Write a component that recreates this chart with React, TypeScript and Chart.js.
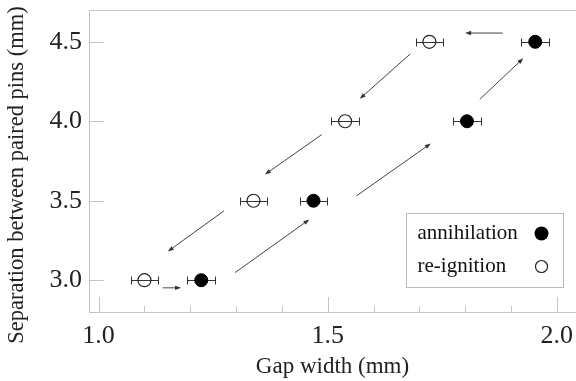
import React, { useEffect, useRef } from 'react';
import { Chart, registerables } from 'chart.js';

Chart.register(...registerables);

const separations = [3.0, 3.5, 4.0, 4.5];
const annihilationGap = [1.224, 1.469, 1.804, 1.953];
const reignitionGap = [1.1, 1.338, 1.538, 1.722];
const annihilationErr = [0.03, 0.03, 0.03, 0.03];
const reignitionErr = [0.03, 0.03, 0.03, 0.03];

const xMajorTicks = [1.0, 1.5, 2.0];
const xMinorTicks = [1.1, 1.2, 1.3, 1.4, 1.6, 1.7, 1.8, 1.9];
const yMajorTicks = [3.0, 3.5, 4.0, 4.5];

const arrowFromX = [1.882, 1.68, 1.487, 1.274, 1.14, 1.298, 1.563, 1.832];
const arrowFromY = [4.555, 4.423, 3.916, 3.437, 2.952, 3.048, 3.531, 4.138];
const arrowToX = [1.8, 1.57, 1.363, 1.151, 1.18, 1.46, 1.725, 1.927];
const arrowToY = [4.555, 4.141, 3.665, 3.181, 2.952, 3.382, 3.86, 4.397];

const yTitle = 'Separation between paired pins (mm)';
const xTitle = 'Gap width (mm)';

const FONT = '"Liberation Serif", "Times New Roman", serif';
const AXIS_GRAY = '#c4c4c4';

const errors = [annihilationErr, reignitionErr];

const decorPlugin = {
  id: 'decor',
  beforeDatasetsDraw(chart: any) {
    const { ctx, scales } = chart;
    const xs = scales.x;
    const ys = scales.y;
    ctx.save();
    // arrows
    ctx.strokeStyle = '#444';
    ctx.fillStyle = '#333';
    ctx.lineWidth = 1;
    for (let i = 0; i < arrowFromX.length; i++) {
      const x1 = xs.getPixelForValue(arrowFromX[i]);
      const y1 = ys.getPixelForValue(arrowFromY[i]);
      const x2 = xs.getPixelForValue(arrowToX[i]);
      const y2 = ys.getPixelForValue(arrowToY[i]);
      const ang = Math.atan2(y2 - y1, x2 - x1);
      const hl = 6;
      const hw = 2.2;
      ctx.beginPath();
      ctx.moveTo(x1, y1);
      ctx.lineTo(x2 - Math.cos(ang) * hl * 0.8, y2 - Math.sin(ang) * hl * 0.8);
      ctx.stroke();
      ctx.beginPath();
      ctx.moveTo(x2, y2);
      ctx.lineTo(x2 - Math.cos(ang) * hl - Math.sin(ang) * hw, y2 - Math.sin(ang) * hl + Math.cos(ang) * hw);
      ctx.lineTo(x2 - Math.cos(ang) * hl + Math.sin(ang) * hw, y2 - Math.sin(ang) * hl - Math.cos(ang) * hw);
      ctx.closePath();
      ctx.fill();
    }
    // error bars
    ctx.strokeStyle = '#333';
    ctx.lineWidth = 1;
    chart.data.datasets.forEach((ds: any, di: number) => {
      ds.data.forEach((p: any, i: number) => {
        const e = errors[di][i];
        const xa = Math.round(xs.getPixelForValue(p.x - e)) + 0.5;
        const xb = Math.round(xs.getPixelForValue(p.x + e)) + 0.5;
        const y = Math.round(ys.getPixelForValue(p.y)) + 0.5;
        ctx.beginPath();
        ctx.moveTo(xa, y);
        ctx.lineTo(xb, y);
        ctx.moveTo(xa, y - 4);
        ctx.lineTo(xa, y + 4);
        ctx.moveTo(xb, y - 4);
        ctx.lineTo(xb, y + 4);
        ctx.stroke();
      });
    });
    ctx.restore();
  },
  afterDraw(chart: any) {
    const { ctx, chartArea, scales } = chart;
    const xs = scales.x;
    const ys = scales.y;
    ctx.save();
    ctx.strokeStyle = AXIS_GRAY;
    ctx.lineWidth = 1;
    // top frame line
    ctx.beginPath();
    ctx.moveTo(chartArea.left, chartArea.top + 0.5);
    ctx.lineTo(chartArea.right, chartArea.top + 0.5);
    ctx.stroke();
    // inward ticks
    ctx.beginPath();
    yMajorTicks.forEach((v) => {
      const y = Math.round(ys.getPixelForValue(v)) + 0.5;
      ctx.moveTo(chartArea.left, y);
      ctx.lineTo(chartArea.left + 15, y);
    });
    xMajorTicks.forEach((v) => {
      const x = Math.round(xs.getPixelForValue(v)) + 0.5;
      ctx.moveTo(x, chartArea.bottom);
      ctx.lineTo(x, chartArea.bottom - 15);
    });
    xMinorTicks.forEach((v) => {
      const x = Math.round(xs.getPixelForValue(v)) + 0.5;
      ctx.moveTo(x, chartArea.bottom);
      ctx.lineTo(x, chartArea.bottom - 6);
    });
    ctx.stroke();
    // y-axis title
    ctx.save();
    ctx.translate(17, (chartArea.top + chartArea.bottom) / 2 + 14);
    ctx.rotate(-Math.PI / 2);
    ctx.font = '22.5px ' + FONT;
    ctx.fillStyle = '#222';
    ctx.textAlign = 'center';
    ctx.textBaseline = 'middle';
    ctx.fillText(yTitle, 0, 0);
    ctx.restore();
    // legend
    const bx = chartArea.right - 169.5;
    const by = chartArea.top + 203.5;
    const bw = 157;
    const bh = 74;
    ctx.strokeStyle = '#bbbbbb';
    ctx.strokeRect(bx, by, bw, bh);
    ctx.font = '21px ' + FONT;
    ctx.fillStyle = '#111';
    ctx.textBaseline = 'middle';
    ctx.textAlign = 'left';
    const labels = chart.data.datasets.map((d: any) => d.label);
    const rows = [by + 20, by + 53];
    labels.forEach((t: string, i: number) => {
      ctx.fillText(t, bx + 11, rows[i]);
    });
    const mx = bx + 135;
    ctx.beginPath();
    ctx.arc(mx, rows[0], 7, 0, Math.PI * 2);
    ctx.fillStyle = '#000';
    ctx.fill();
    ctx.beginPath();
    ctx.arc(mx, rows[1], 6, 0, Math.PI * 2);
    ctx.strokeStyle = '#222';
    ctx.lineWidth = 1.2;
    ctx.stroke();
    ctx.restore();
  },
};

export default function App() {
  const ref = useRef<HTMLCanvasElement>(null);
  useEffect(() => {
    if (!ref.current) return;
    const chart = new Chart(ref.current, {
      type: 'scatter',
      data: {
        datasets: [
          {
            label: 'annihilation',
            data: annihilationGap.map((x, i) => ({ x, y: separations[i] })),
            pointRadius: 6.5,
            pointHoverRadius: 6.5,
            pointBackgroundColor: '#000',
            pointBorderColor: '#000',
            pointBorderWidth: 1,
          },
          {
            label: 're-ignition',
            data: reignitionGap.map((x, i) => ({ x, y: separations[i] })),
            pointRadius: 6.5,
            pointHoverRadius: 6.5,
            pointBackgroundColor: 'rgba(0,0,0,0)',
            pointBorderColor: '#222',
            pointBorderWidth: 1.2,
          },
        ],
      },
      options: {
        animation: false,
        responsive: false,
        events: [],
        layout: { autoPadding: false, padding: { top: 10, right: 0, left: 0, bottom: 0 } },
        plugins: { legend: { display: false }, tooltip: { enabled: false } },
        scales: {
          x: {
            type: 'linear',
            min: 0.979,
            max: 2.042,
            afterBuildTicks: (s: any) => {
              s.ticks = xMajorTicks.map((v) => ({ value: v }));
            },
            afterFit: (s: any) => {
              s.height = 69;
              s.paddingLeft = 0;
              s.paddingRight = 0;
            },
            grid: { display: false, drawTicks: false },
            border: { display: true, color: AXIS_GRAY, width: 1 },
            ticks: {
              autoSkip: false,
              maxRotation: 0,
              padding: 9,
              color: '#222',
              font: { family: FONT, size: 26 },
              callback: (v: any) => Number(v).toFixed(1),
            },
            title: {
              display: true,
              text: xTitle,
              color: '#222',
              font: { family: FONT, size: 23 },
              padding: { top: 0, bottom: 0 },
            },
          },
          y: {
            type: 'linear',
            min: 2.8,
            max: 4.7,
            afterBuildTicks: (s: any) => {
              s.ticks = yMajorTicks.map((v) => ({ value: v }));
            },
            afterFit: (s: any) => {
              s.width = 89;
              s.paddingTop = 0;
              s.paddingBottom = 0;
            },
            grid: { display: false, drawTicks: false },
            border: { display: true, color: AXIS_GRAY, width: 1 },
            ticks: {
              padding: 7,
              color: '#222',
              font: { family: FONT, size: 26 },
              callback: (v: any) => Number(v).toFixed(1),
            },
            title: { display: false },
          },
        },
      },
      plugins: [decorPlugin],
    });
    return () => chart.destroy();
  }, []);
  return (
    <div style={{ position: 'absolute', left: 0, top: 0, width: 576, height: 381, background: '#fff' }}>
      <canvas ref={ref} width={576} height={381} />
    </div>
  );
}
